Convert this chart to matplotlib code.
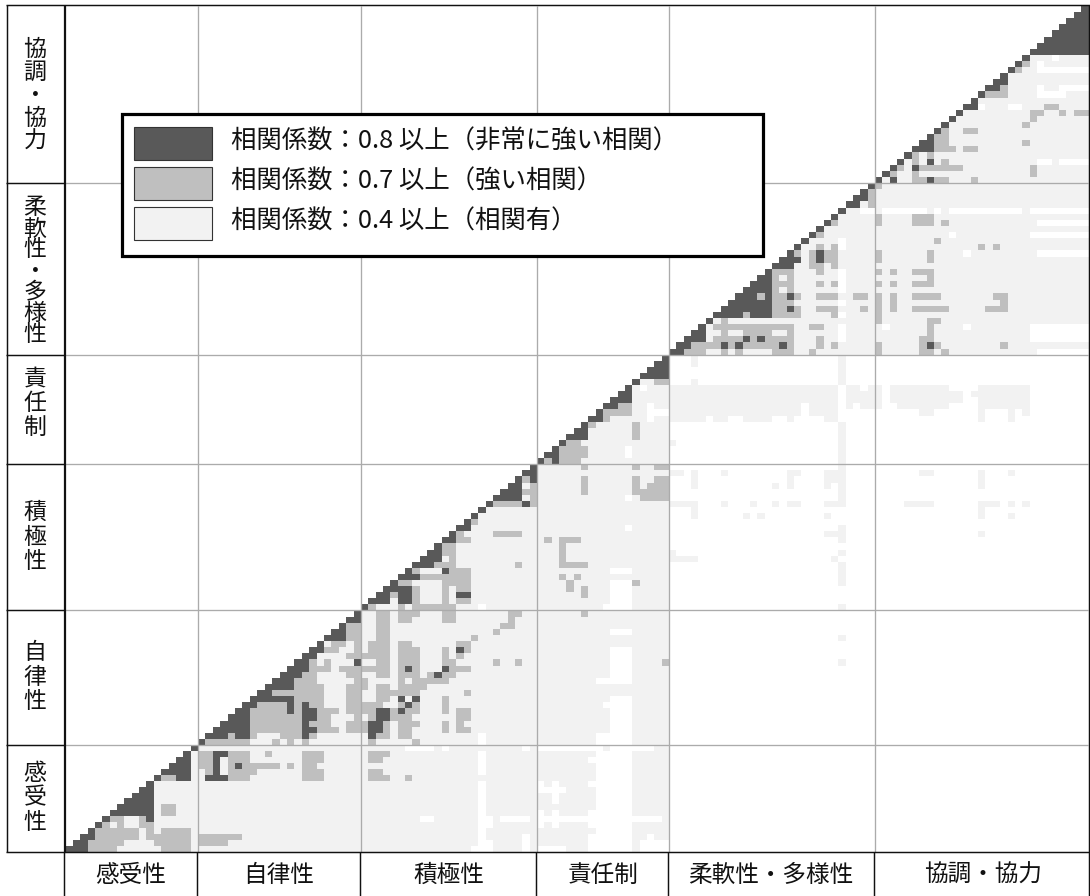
import numpy as np
import matplotlib
matplotlib.use("Agg")
import matplotlib.pyplot as plt
from matplotlib.colors import ListedColormap
from matplotlib.patches import Rectangle

plt.rcParams['font.family'] = ['Noto Sans CJK JP', 'DejaVu Sans']

# ---------- data ----------
GROUPS = ['感受性', '自律性', '積極性', '責任制', '柔軟性・多様性', '協調・協力']
GROUP_SIZES = [18, 22, 24, 18, 28, 29]
LEGEND_LABELS = ['相関係数：0.8 以上（非常に強い相関）',
                 '相関係数：0.7 以上（強い相関）',
                 '相関係数：0.4 以上（相関有）']
N_ITEMS = sum(GROUP_SIZES)

# every run: (row_from, row_to, col_from, col_to), inclusive item indices
LIGHT_BASE = [(0, 81, 0, 81), (82, 138, 82, 138)]

LIGHT_RUNS = [
    (80, 81, 85, 85), (77, 77, 85, 85), (77, 81, 105, 105),
    (76, 76, 82, 104), (76, 76, 106, 107), (76, 76, 109, 110), (76, 76, 112, 119), (76, 76, 124, 130),
    (75, 75, 82, 104), (75, 75, 106, 110), (75, 75, 112, 121), (75, 75, 123, 130),
    (74, 74, 82, 104), (74, 74, 106, 110), (74, 74, 112, 121), (74, 74, 124, 130),
    (73, 73, 82, 99), (73, 73, 101, 104), (73, 73, 106, 106), (73, 73, 108, 110), (73, 73, 113, 119), (73, 73, 124, 130),
    (72, 72, 82, 99), (72, 72, 101, 104), (72, 72, 116, 117), (72, 72, 124, 124), (72, 72, 128, 128), (72, 72, 130, 130),
    (71, 71, 82, 86), (71, 71, 88, 89), (71, 71, 92, 95), (71, 71, 98, 98), (71, 71, 103, 104), (71, 71, 124, 124), (71, 71, 128, 128),
    (57, 70, 105, 105), (67, 67, 82, 82),
    (62, 62, 82, 83), (62, 62, 85, 85), (62, 62, 89, 89), (62, 62, 98, 99), (62, 62, 103, 104), (62, 62, 116, 117), (62, 62, 124, 124), (62, 62, 128, 128),
    (61, 61, 85, 85), (61, 61, 98, 98), (61, 61, 103, 104), (61, 61, 124, 124),
    (60, 60, 85, 85), (60, 60, 96, 96), (60, 60, 98, 98), (60, 60, 103, 103), (60, 60, 124, 124),
    (57, 57, 82, 85), (57, 57, 89, 89), (57, 57, 93, 93), (57, 57, 96, 96), (57, 57, 98, 99), (57, 57, 103, 105), (57, 57, 114, 117), (57, 57, 124, 126), (57, 57, 128, 128), (57, 57, 130, 130),
    (56, 56, 85, 85), (56, 56, 124, 124),
    (55, 55, 85, 85), (55, 55, 92, 92), (55, 55, 94, 94), (55, 55, 103, 103), (55, 55, 124, 124), (55, 55, 128, 128),
    (52, 52, 103, 104), (52, 52, 124, 124),
    (51, 53, 105, 105), (49, 49, 105, 105), (49, 49, 82, 82), (48, 48, 82, 85), (48, 48, 104, 104),
    (44, 47, 105, 105), (40, 40, 105, 105), (35, 35, 105, 105), (31, 31, 105, 105),
]

WHITE_RUNS = [
    (14, 16, 56, 56), (13, 13, 56, 56), (0, 11, 56, 56), (18, 19, 56, 56), (40, 40, 56, 56),
    (4, 5, 57, 57), (0, 1, 57, 57), (0, 0, 55, 55), (5, 5, 48, 49), (5, 5, 59, 62), (0, 2, 62, 62),
    (17, 17, 46, 49), (17, 17, 51, 51), (17, 17, 62, 62),
    (17, 17, 64, 72), (17, 17, 74, 79), (0, 16, 72, 76), (15, 15, 71, 71), (11, 11, 71, 71),
    (4, 6, 71, 71), (0, 2, 71, 71), (5, 5, 64, 80), (10, 11, 64, 64), (10, 10, 64, 67), (8, 11, 66, 66),
    (4, 6, 64, 64), (4, 6, 66, 66), (0, 0, 64, 67), (1, 2, 79, 79), (1, 1, 78, 80), (0, 0, 78, 81), (0, 1, 81, 81),
    (36, 36, 74, 76), (29, 33, 74, 76), (28, 28, 72, 76), (20, 25, 74, 76), (24, 24, 73, 73), (18, 19, 72, 76),
    (41, 44, 74, 76), (40, 40, 73, 76), (46, 46, 74, 76), (58, 58, 76, 76), (53, 53, 76, 76), (65, 66, 76, 76),
    (76, 76, 78, 78), (71, 73, 79, 79), (72, 72, 80, 81),
    (105, 105, 111, 116), (105, 105, 118, 118), (105, 105, 120, 129), (105, 105, 131, 138),
    (103, 103, 132, 138), (101, 101, 120, 120), (101, 101, 131, 138), (98, 98, 122, 122), (98, 98, 132, 138),
    (86, 86, 111, 111), (86, 86, 122, 122), (84, 86, 131, 138), (82, 82, 132, 138),
    (99, 100, 105, 105), (92, 95, 105, 105), (90, 90, 105, 105), (88, 88, 105, 105), (84, 86, 105, 105),
    (122, 122, 124, 124), (122, 122, 128, 129), (124, 124, 132, 135), (125, 125, 132, 132), (125, 125, 135, 138),
    (128, 128, 132, 138), (129, 129, 132, 132), (130, 130, 134, 134), (113, 113, 132, 133), (113, 113, 135, 138),
    (105, 105, 108, 109),
]

MID_RUNS = [
    # 感受性
    (0, 0, 3, 6), (0, 0, 13, 16), (1, 1, 3, 7), (1, 1, 12, 16), (2, 2, 4, 9), (2, 2, 11, 16),
    (3, 3, 4, 9), (3, 3, 11, 11), (3, 3, 13, 16), (4, 4, 5, 5), (4, 4, 7, 7), (4, 4, 10, 11),
    (5, 5, 6, 7), (5, 5, 10, 10), (6, 7, 13, 14), (12, 12, 13, 14),
    (1, 1, 18, 21), (2, 2, 18, 23),
    (16, 16, 18, 19), (16, 16, 22, 24), (16, 16, 27, 27), (16, 16, 32, 34),
    (15, 15, 18, 19), (15, 15, 22, 24), (15, 15, 32, 34),
    (14, 14, 18, 19), (14, 14, 22, 22), (14, 14, 24, 28), (14, 14, 30, 30), (14, 14, 32, 33),
    (13, 13, 19, 19), (13, 13, 22, 25), (13, 13, 32, 34), (12, 12, 22, 24), (12, 12, 32, 34),
    (16, 16, 41, 43), (15, 15, 41, 42), (13, 13, 41, 42), (12, 12, 41, 43), (12, 12, 46, 46),
    # 自律性
    (18, 18, 19, 24), (18, 18, 28, 28), (18, 18, 30, 30), (18, 18, 32, 32),
    (19, 19, 22, 22), (19, 19, 25, 25), (19, 19, 29, 31), (19, 19, 33, 33),
    (20, 20, 25, 31), (20, 20, 34, 35), (20, 20, 36, 36), (20, 20, 38, 39),
    (21, 21, 25, 31), (21, 21, 33, 35), (21, 21, 38, 39),
    (22, 22, 25, 31), (22, 22, 34, 35), (22, 22, 39, 39),
    (23, 23, 25, 29), (23, 23, 31, 31), (23, 23, 34, 36), (23, 23, 38, 39),
    (24, 24, 26, 29), (24, 24, 31, 31), (24, 24, 33, 34), (24, 24, 38, 39),
    (25, 25, 31, 34), (25, 25, 38, 39), (26, 26, 28, 34), (26, 26, 38, 39),
    (27, 27, 31, 34), (27, 27, 38, 39), (28, 28, 31, 33), (28, 28, 39, 39),
    (29, 29, 32, 33), (29, 29, 38, 39), (30, 30, 33, 35), (30, 30, 37, 39),
    (31, 31, 33, 33), (31, 31, 35, 35), (32, 32, 38, 39), (33, 33, 35, 36), (33, 33, 39, 39),
    (34, 34, 36, 37), (34, 34, 39, 39), (35, 37, 38, 39),
    (35, 39, 42, 43), (33, 34, 41, 43), (32, 32, 40, 43), (31, 31, 42, 43), (30, 30, 40, 43),
    (29, 29, 42, 43), (28, 28, 40, 40), (27, 27, 40, 40), (27, 27, 42, 43), (26, 26, 42, 47), (25, 25, 42, 43),
    (24, 24, 40, 42), (24, 24, 45, 45), (24, 24, 47, 47), (23, 23, 40, 41), (23, 23, 44, 44), (23, 23, 46, 47),
    (22, 22, 41, 41), (22, 22, 44, 46), (21, 21, 40, 40), (21, 21, 43, 43), (21, 21, 45, 47),
    (20, 20, 40, 40), (20, 20, 43, 43), (20, 20, 45, 46), (19, 19, 42, 43), (19, 19, 45, 46), (18, 18, 41, 41), (18, 18, 47, 47),
    (39, 39, 45, 47), (38, 38, 45, 46), (34, 34, 45, 46), (31, 33, 45, 47), (30, 30, 45, 45), (30, 30, 47, 47),
    (29, 29, 45, 47), (28, 28, 45, 45), (28, 28, 47, 51), (27, 27, 45, 48),
    (29, 29, 49, 49), (29, 29, 51, 52), (30, 30, 52, 54), (31, 31, 51, 52), (32, 33, 51, 51), (32, 32, 53, 53), (33, 33, 54, 54),
    (34, 34, 53, 54), (35, 35, 55, 55), (36, 36, 58, 58), (37, 37, 59, 60), (38, 38, 60, 60), (39, 39, 60, 61),
    (38, 39, 51, 52), (39, 39, 70, 70), (31, 31, 58, 58), (31, 31, 61, 61), (31, 31, 81, 81), (26, 26, 54, 54),
    (23, 25, 51, 51), (22, 23, 53, 54), (21, 21, 53, 53), (20, 21, 51, 51), (20, 20, 53, 54),
    # 積極性
    (40, 40, 41, 41), (40, 40, 45, 45), (40, 40, 47, 52),
    (41, 41, 47, 47), (41, 43, 51, 51), (41, 41, 53, 54),
    (42, 42, 44, 44), (42, 42, 47, 47), (43, 43, 47, 47), (43, 44, 53, 54),
    (44, 44, 45, 46), (44, 44, 51, 52), (45, 45, 48, 54), (46, 46, 47, 47), (46, 46, 52, 54),
    (47, 47, 50, 52), (47, 47, 61, 61), (48, 48, 52, 52), (49, 50, 51, 52), (51, 51, 53, 54),
    (52, 52, 53, 53), (52, 52, 58, 61), (54, 54, 55, 55),
    (57, 57, 58, 61), (57, 57, 63, 63), (58, 58, 63, 63), (59, 59, 62, 63), (60, 60, 63, 63), (61, 61, 62, 62),
    (51, 51, 65, 65), (51, 51, 67, 69), (47, 50, 67, 67), (47, 47, 67, 70), (45, 45, 67, 67), (45, 45, 69, 69),
    (43, 44, 68, 68), (42, 43, 70, 70), (44, 44, 77, 77), (63, 63, 70, 70), (63, 63, 77, 77), (63, 63, 80, 81),
    (59, 61, 70, 70), (59, 61, 77, 77), (61, 61, 80, 81), (60, 60, 79, 81), (59, 59, 77, 81), (58, 58, 78, 81),
    # 責任制
    (64, 64, 65, 65), (64, 64, 67, 69), (65, 66, 67, 70), (67, 67, 68, 69), (68, 70, 77, 77), (70, 70, 71, 71),
    (71, 71, 73, 73), (72, 72, 73, 76), (73, 73, 75, 76), (77, 77, 80, 81),
    # 柔軟性・多様性
    (82, 82, 84, 86), (82, 82, 89, 89), (82, 82, 91, 91), (82, 82, 96, 98), (82, 82, 101, 101),
    (83, 83, 85, 88), (83, 83, 90, 90), (83, 83, 92, 96), (83, 83, 98, 98), (83, 83, 102, 102), (83, 83, 104, 104),
    (84, 84, 88, 91), (84, 84, 93, 93), (84, 84, 95, 98), (84, 84, 102, 102),
    (85, 85, 89, 89), (85, 85, 92, 95), (85, 85, 98, 98),
    (86, 86, 88, 98), (86, 86, 101, 102), (87, 87, 89, 89),
    (88, 88, 92, 92), (88, 88, 96, 99), (88, 88, 104, 104),
    (89, 89, 96, 97), (89, 89, 99, 99), (89, 89, 102, 104), (89, 89, 108, 108),
    (90, 90, 96, 98), (91, 91, 94, 94), (91, 91, 96, 97), (91, 91, 99, 99), (91, 91, 102, 104), (91, 91, 107, 108),
    (92, 92, 96, 96), (92, 92, 98, 98), (93, 93, 96, 98), (93, 93, 102, 102), (93, 93, 104, 104),
    (94, 94, 96, 96), (94, 94, 98, 98), (95, 95, 96, 98), (95, 95, 102, 102),
    (96, 96, 101, 102), (96, 96, 104, 104), (97, 97, 101, 101), (97, 97, 103, 104),
    (98, 98, 99, 99), (98, 98, 101, 101), (98, 98, 103, 104), (99, 99, 102, 102), (99, 99, 104, 104),
    (101, 101, 102, 102), (103, 103, 104, 104), (106, 108, 109, 109), (109, 109, 110, 110),
    (103, 104, 110, 110), (97, 98, 110, 110), (95, 95, 110, 110), (93, 93, 110, 110), (89, 91, 110, 110),
    (87, 88, 110, 110), (82, 83, 110, 110),
    (103, 104, 115, 117), (103, 103, 119, 119), (100, 100, 118, 118), (99, 99, 124, 124), (99, 99, 126, 126),
    (97, 98, 117, 117), (95, 95, 115, 117), (94, 94, 117, 117), (93, 93, 115, 117),
    (95, 95, 112, 112), (93, 93, 112, 112), (89, 91, 112, 112), (91, 91, 115, 118), (89, 89, 115, 119),
    (91, 91, 126, 127), (90, 90, 127, 127), (89, 89, 125, 127),
    (87, 87, 117, 118), (84, 86, 117, 117), (84, 84, 116, 117), (83, 83, 116, 116), (83, 83, 118, 118),
    (82, 82, 116, 117), (82, 82, 119, 119), (83, 83, 127, 127),
    # 協調・協力
    (110, 110, 115, 116), (110, 110, 118, 119), (110, 110, 123, 123), (111, 111, 112, 112), (111, 111, 115, 115),
    (111, 112, 131, 131), (112, 112, 113, 113), (112, 112, 116, 121), (113, 113, 115, 115), (113, 113, 119, 119),
    (114, 114, 115, 115), (114, 114, 117, 117), (115, 115, 118, 120), (115, 115, 122, 123),
    (116, 116, 118, 119), (116, 116, 130, 130), (117, 117, 118, 119), (118, 118, 119, 119), (118, 118, 122, 123),
    (119, 119, 130, 130), (120, 120, 131, 131), (121, 121, 131, 132), (121, 121, 135, 135), (121, 121, 137, 138),
    (122, 122, 133, 134), (124, 124, 125, 127), (125, 125, 127, 127), (128, 128, 129, 129), (129, 129, 130, 130),
]

DARK_RUNS = [
    (0, 0, 0, 2), (1, 1, 1, 2), (2, 2, 2, 3), (5, 5, 11, 11), (6, 6, 6, 11), (7, 7, 7, 11), (8, 8, 8, 11),
    (9, 9, 9, 11), (10, 10, 10, 11), (12, 12, 15, 16), (13, 13, 13, 16), (14, 14, 14, 16), (15, 15, 15, 16),
    (16, 16, 20, 21), (15, 15, 20, 20), (14, 14, 20, 20), (14, 14, 23, 23), (13, 13, 20, 20), (12, 12, 19, 21),
    (19, 19, 19, 21), (19, 19, 23, 24), (19, 19, 32, 32), (20, 20, 20, 24), (20, 20, 32, 33), (21, 21, 21, 24), (21, 21, 32, 32),
    (22, 22, 22, 24), (22, 22, 32, 33), (23, 23, 23, 24), (23, 23, 30, 30), (23, 23, 32, 33),
    (24, 24, 24, 25), (24, 24, 30, 30), (24, 24, 32, 32), (25, 25, 25, 30), (26, 26, 26, 27), (27, 27, 27, 30),
    (28, 28, 28, 30), (29, 29, 29, 31), (30, 30, 30, 32), (31, 31, 31, 32), (31, 31, 39, 39), (32, 32, 32, 33),
    (33, 33, 33, 34), (35, 35, 35, 37), (36, 36, 36, 37), (38, 38, 38, 39),
    (25, 25, 45, 45), (25, 25, 47, 47), (24, 24, 46, 46), (23, 23, 42, 43), (23, 23, 45, 45), (22, 22, 42, 43),
    (21, 21, 41, 42), (20, 20, 41, 42), (19, 19, 41, 41), (30, 30, 46, 46), (29, 29, 50, 50), (30, 30, 51, 51), (33, 33, 53, 53),
    (41, 41, 41, 43), (41, 41, 45, 46), (42, 42, 42, 43), (42, 42, 45, 46), (42, 42, 53, 54), (43, 43, 43, 46),
    (45, 45, 45, 47), (46, 46, 51, 51), (47, 47, 47, 49), (48, 48, 48, 50), (49, 49, 49, 50), (51, 51, 51, 52),
    (53, 53, 53, 54), (57, 57, 62, 62), (58, 58, 58, 61), (59, 59, 59, 61), (60, 60, 60, 61), (61, 61, 63, 63), (62, 62, 62, 63),
    (64, 64, 66, 66), (65, 65, 65, 66), (68, 68, 68, 70), (69, 69, 69, 70), (71, 71, 71, 72), (73, 73, 73, 74),
    (74, 74, 74, 76), (75, 75, 75, 76), (78, 78, 78, 81), (79, 79, 79, 81), (80, 80, 80, 81),
    (82, 82, 82, 83), (83, 83, 83, 84), (83, 83, 89, 89), (83, 83, 91, 91), (83, 83, 97, 97), (83, 83, 117, 117),
    (84, 84, 84, 86), (84, 84, 92, 92), (84, 84, 94, 94), (85, 85, 85, 86),
    (88, 88, 88, 91), (88, 88, 93, 95), (89, 89, 89, 95), (89, 89, 98, 98), (90, 90, 90, 95), (91, 91, 91, 93), (91, 91, 95, 95), (91, 91, 98, 98),
    (92, 92, 92, 95), (93, 93, 93, 95), (94, 94, 94, 95), (96, 96, 96, 98), (97, 97, 97, 99), (97, 97, 102, 102), (98, 98, 102, 102),
    (106, 106, 106, 107), (107, 107, 107, 108),
    (110, 110, 112, 112), (110, 110, 117, 117), (112, 112, 115, 115), (113, 113, 117, 117),
    (115, 115, 115, 117), (116, 116, 116, 117), (122, 122, 122, 123), (125, 125, 125, 126), (126, 126, 126, 127),
    (131, 131, 131, 138), (132, 132, 132, 138), (133, 133, 133, 138), (134, 134, 134, 138),
    (135, 135, 135, 138), (136, 136, 136, 138), (137, 137, 137, 138),
]

LEVEL_COLORS = ['#FFFFFF', '#F2F2F2', '#BFBFBF', '#595959']


def paint(matrix, runs, level):
    for r0, r1, c0, c1 in runs:
        matrix[r0:r1 + 1, c0:c1 + 1] = level


levels = np.zeros((N_ITEMS, N_ITEMS), dtype=int)
paint(levels, LIGHT_BASE, 1)
paint(levels, LIGHT_RUNS, 1)
paint(levels, WHITE_RUNS, 0)
paint(levels, MID_RUNS, 2)
paint(levels, DARK_RUNS, 3)
levels[np.diag_indices(N_ITEMS)] = 3
levels[np.tril_indices(N_ITEMS, -1)] = 0

# ---------- layout (pixels of the 1090x896 picture) ----------
FIG_W, FIG_H = 1090, 896
GROUP_EDGES = np.concatenate([[0], np.cumsum(GROUP_SIZES)])
X_AT_GROUP = [65.5, 198, 361, 537, 669, 875, 1088.5]
Y_AT_GROUP = [852, 745, 610.5, 464.3, 354.7, 183, 6]
x_edges = np.interp(np.arange(N_ITEMS + 1), GROUP_EDGES, X_AT_GROUP)
y_edges = np.interp(np.arange(N_ITEMS + 1), GROUP_EDGES, Y_AT_GROUP)

fig = plt.figure(figsize=(FIG_W / 100, FIG_H / 100), dpi=100)
ax = fig.add_axes([0, 0, 1, 1])
ax.set_xlim(0, FIG_W)
ax.set_ylim(FIG_H, 0)
ax.axis('off')

ax.pcolormesh(x_edges, y_edges, levels, cmap=ListedColormap(LEVEL_COLORS),
              vmin=-0.5, vmax=3.5, shading='flat', antialiased=False, zorder=1)

GRID = '#ABABAB'
for x in X_AT_GROUP[1:-1]:
    ax.plot([x, x], [6, 852], color=GRID, lw=0.95, zorder=2, solid_capstyle='butt')
for y in Y_AT_GROUP[1:-1]:
    ax.plot([65, 1088], [y, y], color=GRID, lw=0.95, zorder=2, solid_capstyle='butt')

BLACK = '#111111'
LINE = dict(color=BLACK, lw=1.05, zorder=5, solid_capstyle='butt')
ax.plot([6, 1089.5], [5.5, 5.5], **LINE)
ax.plot([6.5, 6.5], [5, 852], **LINE)
ax.plot([1089.2, 1089.2], [5, 896], **LINE)
ax.plot([65, 65], [5, 852], color=BLACK, lw=1.6, zorder=5, solid_capstyle='butt')
ax.plot([6, 1090], [852.5, 852.5], **LINE)
for y in Y_AT_GROUP[1:-1]:
    ax.plot([6, 65], [y, y], **LINE)
for x in [63.5, 197, 360, 536, 668, 873.5]:
    ax.plot([x, x], [852, 896], **LINE)

# bottom header
BOTTOM_X = [131, 279, 449, 603, 771, 983]
for name, x in zip(GROUPS, BOTTOM_X):
    ax.text(x, 875, name, ha='center', va='center', fontsize=17, color='#111111', zorder=6)

# left header, written vertically
LEFT_Y = [798, 677, 537, 403, 271, 95]
LEFT_SPACING = [1.065, 1.065, 1.065, 1.065, 0.89, 1.0]
for name, y, sp in zip(GROUPS, LEFT_Y, LEFT_SPACING):
    ax.text(35, y, '\n'.join(name), ha='center', va='center', fontsize=16.5,
            color='#111111', linespacing=sp, zorder=6)

# legend
ax.add_patch(Rectangle((121.5, 114.5), 641, 142, facecolor='white', edgecolor='black',
                       lw=2.3, zorder=7))
SWATCH_Y = [127, 167, 207]
for label, lvl, y in zip(LEGEND_LABELS, [3, 2, 1], SWATCH_Y):
    ax.add_patch(Rectangle((133.5, y), 78, 33.5, facecolor=LEVEL_COLORS[lvl],
                           edgecolor='#333333', lw=0.8, zorder=8))
    ax.text(231, y + 15, label, ha='left', va='center', fontsize=18.3,
            color='#111111', zorder=8)

fig.savefig('out.png', dpi=100, facecolor='white')
